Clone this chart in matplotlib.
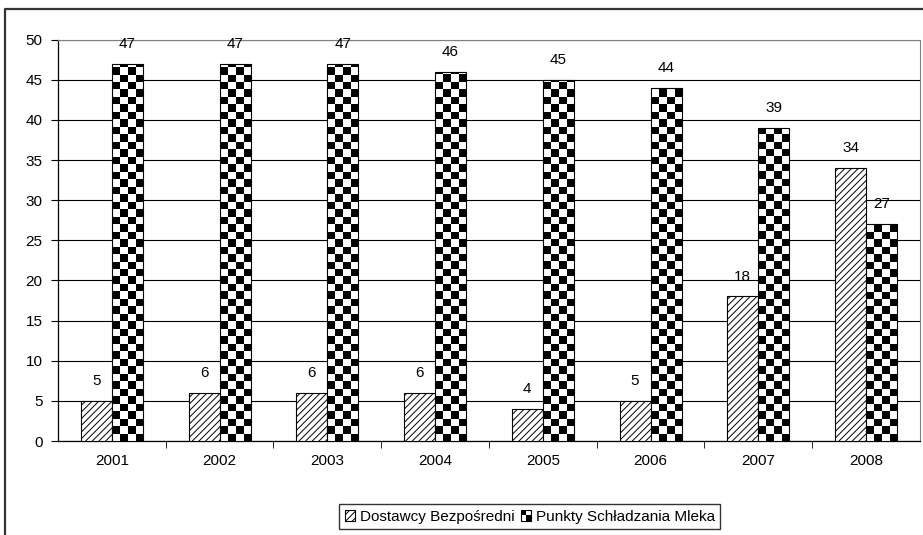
import numpy as np
import matplotlib
matplotlib.use('Agg')
import matplotlib.pyplot as plt
from matplotlib.patches import Patch, Rectangle
from matplotlib.lines import Line2D
from matplotlib.legend_handler import HandlerBase

plt.rcParams['font.family'] = ['Liberation Sans', 'DejaVu Sans']
plt.rcParams['font.size'] = 11
plt.rcParams['hatch.color'] = '#555555'
plt.rcParams['hatch.linewidth'] = 0.7

# data
years = ['2001', '2002', '2003', '2004', '2005', '2006', '2007', '2008']
dostawcy = [5, 6, 6, 6, 4, 5, 18, 34]
punkty = [47, 47, 47, 46, 45, 44, 39, 27]
labels = ['Dostawcy Bezpośredni', 'Punkty Schładzania Mleka']


class CheckerHandler(HandlerBase):
    """Small black/white checker square for the legend."""
    def create_artists(self, legend, orig_handle, xdescent, ydescent,
                       width, height, fontsize, trans):
        s = min(width, height)
        x0 = -xdescent + (width - s) / 2
        y0 = -ydescent
        h = s / 2
        arts = [Rectangle((x0, y0), s, s, facecolor='white', edgecolor='black',
                          lw=0.8, transform=trans)]
        arts.append(Rectangle((x0, y0 + h), h, h, facecolor='black', lw=0, transform=trans))
        arts.append(Rectangle((x0 + h, y0), h, h, facecolor='black', lw=0, transform=trans))
        return arts


fig = plt.figure(figsize=(9.23, 5.35), dpi=100)
ax = fig.add_axes([0.0628, 0.1757, 0.9339, 0.7503])

x = np.arange(len(years))
w = 0.288

# hatched bars
ax.bar(x - w / 2, dostawcy, w, facecolor='white', edgecolor='black',
       hatch='/////', lw=0.8, zorder=3)

# checker bars: image clipped to each bar
bars2 = ax.bar(x + w / 2, punkty, w, facecolor='none', edgecolor='black',
               lw=0.8, zorder=4)
cell_y = 0.93  # about 7.5 px per cell
for b in bars2:
    bx, by = b.get_x(), b.get_y()
    bw, bh = b.get_width(), b.get_height()
    nx = 4
    ny = int(np.ceil(bh / cell_y))
    board = (np.add.outer(np.arange(ny), np.arange(nx)) % 2).astype(float)
    im = ax.imshow(board, cmap='gray_r', vmin=0, vmax=1, interpolation='nearest',
                   extent=[bx, bx + bw, by, by + ny * cell_y], origin='lower',
                   aspect='auto', zorder=3)
    im.set_clip_path(b)

for i in range(len(years)):
    ax.text(x[i] - w / 2, dostawcy[i] + 1.6, str(dostawcy[i]), ha='center', va='bottom')
    ax.text(x[i] + w / 2, punkty[i] + 1.6, str(punkty[i]), ha='center', va='bottom')

ax.set_xlim(-0.5, len(years) - 0.5)
ax.set_ylim(0, 50)
ax.set_yticks(np.arange(0, 51, 5))
ax.yaxis.grid(True, color='black', lw=0.8, zorder=0)
ax.set_axisbelow(True)

ax.set_xticks(x)
ax.set_xticklabels(years)
ax.set_xticks(np.arange(0.5, len(years) - 0.5, 1), minor=True)
ax.tick_params(axis='x', which='major', length=0, pad=9)
ax.tick_params(axis='x', which='minor', length=5, direction='out', color='black')
ax.tick_params(axis='y', length=5, direction='out', pad=6, color='black')

for s in ['top', 'right']:
    ax.spines[s].set_color('#808080')
for s in ['left', 'bottom']:
    ax.spines[s].set_color('black')
    ax.spines[s].set_linewidth(0.9)

# outer chart frame (only top and left visible in the crop)
fig.add_artist(Line2D([5 / 923, 5 / 923, 922 / 923], [0, 1 - 9 / 535, 1 - 9 / 535],
                      transform=fig.transFigure, color='#333333', lw=1.6))

handles = [Patch(facecolor='white', edgecolor='black', hatch='/////', lw=0.8),
           Patch(facecolor='white', edgecolor='black')]
leg = fig.legend(handles, labels, loc='center', bbox_to_anchor=(0.574, 0.034),
                 ncol=2, frameon=True, fancybox=False, edgecolor='black',
                 handlelength=0.7, handleheight=0.7, handletextpad=0.3,
                 columnspacing=0.4, borderpad=0.35, fontsize=11,
                 handler_map={handles[1]: CheckerHandler()})
leg.get_frame().set_linewidth(1.0)

fig.savefig('out.png', dpi=100)
